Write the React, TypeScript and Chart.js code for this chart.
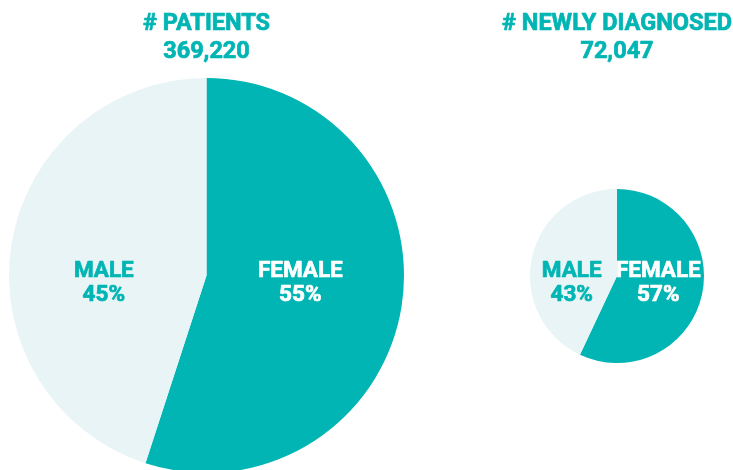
import React, { useEffect, useRef } from "react";
import { Chart, registerables } from "chart.js";

Chart.register(...registerables);

const categories = ["FEMALE", "MALE"];
const patientsTitle = "# PATIENTS";
const patientsTotal = "369,220";
const patientsShare = [55, 45];
const newlyTitle = "# NEWLY DIAGNOSED";
const newlyTotal = "72,047";
const newlyShare = [57, 43];

const TEAL = "#00B5B3";
const LIGHT = "#E8F4F5";
const FONT = "Roboto";

type Props = {
  title: string;
  total: string;
  values: number[];
  left: number;
  width: number;
  height: number;
  padding: { top: number; left: number; right: number; bottom: number };
};

function heavyText(ctx: CanvasRenderingContext2D, text: string, x: number, y: number) {
  ctx.fillText(text, x, y);
  ctx.strokeText(text, x, y);
}

function PieBlock({ title, total, values, left, width, height, padding }: Props) {
  const ref = useRef<HTMLCanvasElement | null>(null);
  useEffect(() => {
    if (!ref.current) return;
    const labelPlugin = {
      id: "pieText",
      afterDraw(chart: any) {
        const meta = chart.getDatasetMeta(0);
        const arc = meta.data[0];
        if (!arc) return;
        const { x, y, outerRadius } = arc.getProps(["x", "y", "outerRadius"], true);
        const ctx = chart.ctx as CanvasRenderingContext2D;
        ctx.save();
        ctx.textAlign = "center";
        ctx.textBaseline = "alphabetic";
        ctx.lineWidth = 0.7;
        ctx.lineJoin = "round";
        ctx.fillStyle = TEAL;
        ctx.strokeStyle = TEAL;
        ctx.font = `bold 23.5px ${FONT}`;
        heavyText(ctx, title, x, 30);
        heavyText(ctx, total, x, 57.5);
        const data = chart.data.datasets[0].data as number[];
        const labels = chart.data.labels as string[];
        const offsets = [0.475, -0.52];
        const colors = ["#FFFFFF", TEAL];
        ctx.font = `bold 22.5px ${FONT}`;
        for (let i = 0; i < data.length; i++) {
          const cx = x + offsets[i] * outerRadius;
          ctx.fillStyle = colors[i];
          ctx.strokeStyle = colors[i];
          heavyText(ctx, labels[i], cx, y + 1);
          heavyText(ctx, `${data[i]}%`, cx, y + 25);
        }
        ctx.restore();
      },
    };
    const chart = new Chart(ref.current, {
      type: "pie",
      data: {
        labels: categories,
        datasets: [
          {
            data: values,
            backgroundColor: [TEAL, LIGHT],
            borderWidth: 0,
          },
        ],
      },
      options: {
        animation: false,
        responsive: false,
        maintainAspectRatio: false,
        layout: { padding },
        plugins: {
          legend: { display: false },
          tooltip: { enabled: false },
          title: { display: false },
        },
      },
      plugins: [labelPlugin],
    });
    return () => chart.destroy();
  }, [title, total, values, width, height, padding]);
  return (
    <canvas
      ref={ref}
      width={width}
      height={height}
      style={{ position: "absolute", left, top: 0, width, height }}
    />
  );
}

const leftPad = { top: 78, left: 9, right: 11, bottom: 7 };
const rightPad = { top: 189, left: 110, right: 29, bottom: 107 };

export default function App() {
  return (
    <div
      style={{
        position: "absolute",
        left: 0,
        top: 0,
        width: 733,
        height: 470,
        overflow: "hidden",
        background: "#FFFFFF",
      }}
    >
      <PieBlock
        title={patientsTitle}
        total={patientsTotal}
        values={patientsShare}
        left={0}
        width={415}
        height={480}
        padding={leftPad}
      />
      <PieBlock
        title={newlyTitle}
        total={newlyTotal}
        values={newlyShare}
        left={420}
        width={313}
        height={470}
        padding={rightPad}
      />
    </div>
  );
}
